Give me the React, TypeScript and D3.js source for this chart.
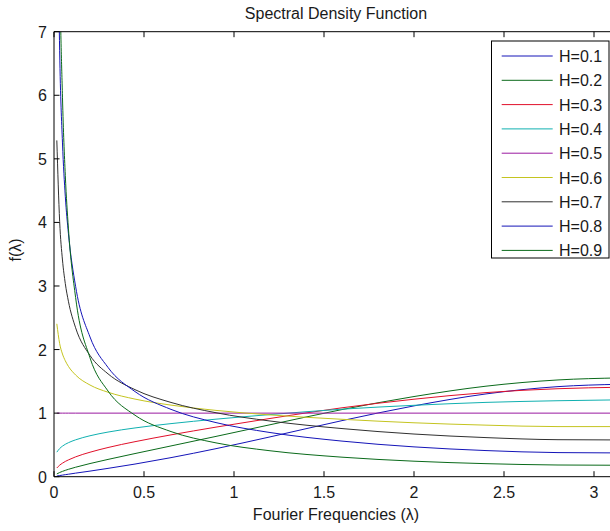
import React from "react";
import * as d3 from "d3";

// Fourier frequencies (λ)
const lambda = [0.0157, 0.0314, 0.0471, 0.0628, 0.08, 0.12, 0.2, 0.3, 0.45, 0.65, 0.9, 1.2, 1.6, 2.0, 2.4, 2.8, 3.1416];

const H01 = [0.010, 0.018, 0.025, 0.032, 0.039, 0.056, 0.088, 0.131, 0.199, 0.300, 0.441, 0.626, 0.882, 1.114, 1.302, 1.417, 1.454];
const H02 = [0.043, 0.066, 0.084, 0.100, 0.116, 0.149, 0.207, 0.272, 0.364, 0.484, 0.634, 0.817, 1.056, 1.261, 1.424, 1.522, 1.554];
const H03 = [0.137, 0.181, 0.213, 0.240, 0.264, 0.312, 0.385, 0.459, 0.551, 0.658, 0.780, 0.916, 1.084, 1.219, 1.323, 1.384, 1.407];
const H04 = [0.386, 0.443, 0.481, 0.510, 0.535, 0.580, 0.644, 0.702, 0.767, 0.835, 0.905, 0.977, 1.062, 1.123, 1.169, 1.195, 1.209];
const H05 = [1, 1, 1, 1, 1, 1, 1, 1, 1, 1, 1, 1, 1, 1, 1, 1, 1];
const H06 = [2.405, 2.094, 1.930, 1.823, 1.736, 1.600, 1.442, 1.329, 1.221, 1.126, 1.043, 0.972, 0.903, 0.848, 0.811, 0.788, 0.788];
const H07 = [5.29, 4.016, 3.409, 3.038, 2.760, 2.343, 1.907, 1.618, 1.369, 1.168, 1.006, 0.876, 0.757, 0.671, 0.615, 0.582, 0.578];
const H08 = [10.15, 6.70, 5.25, 4.41, 3.829, 2.994, 2.198, 1.719, 1.339, 1.059, 0.851, 0.695, 0.560, 0.469, 0.411, 0.379, 0.374];
const H09 = [14.37, 8.26, 5.97, 4.74, 3.91, 2.82, 1.87, 1.348, 0.967, 0.710, 0.532, 0.408, 0.307, 0.244, 0.205, 0.184, 0.180];

const seriesNames = ["H=0.1", "H=0.2", "H=0.3", "H=0.4", "H=0.5", "H=0.6", "H=0.7", "H=0.8", "H=0.9"];
const seriesValues = [H01, H02, H03, H04, H05, H06, H07, H08, H09];
const seriesColors = ["#1414b8", "#0a6a1a", "#e0102a", "#10b0b0", "#9a1aa0", "#c4c420", "#303030", "#1414b8", "#0a6a1a"];

const xTicks = [0, 0.5, 1, 1.5, 2, 2.5, 3];
const xTickLabels = ["0", "0.5", "1", "1.5", "2", "2.5", "3"];
const yTicks = [0, 1, 2, 3, 4, 5, 6, 7];
const yTickLabels = ["0", "1", "2", "3", "4", "5", "6", "7"];

const W = 610;
const H = 531;
const left = 54;
const right = 619.5;
const top = 31.7;
const bottom = 476.7;
const font = "'Liberation Sans', Arial, Helvetica, sans-serif";
const tickLen = 5.5;

export default function App() {
  const x = d3.scaleLinear().domain([0, Math.PI]).range([left, right]);
  const y = d3.scaleLinear().domain([0, 7]).range([bottom, top]);
  const line = d3
    .line<number>()
    .x((_, i) => x(lambda[i]))
    .y((d) => y(d))
    .curve(d3.curveMonotoneX);

  const legX = 491.5;
  const legY = 41;
  const legW = 117.5;
  const legH = 217;
  const rowY0 = 56;
  const rowStep = 24.3;

  return (
    <svg
      width={W}
      height={H}
      style={{ position: "absolute", left: 0, top: 0, background: "#fff" }}
      fontFamily={font}
    >
      <defs>
        <clipPath id="plotClip">
          <rect x={left} y={top} width={right - left} height={bottom - top} />
        </clipPath>
      </defs>
      <rect x={0} y={0} width={W} height={H} fill="#fff" />
      {/* series */}
      <g clipPath="url(#plotClip)">
        {seriesValues.map((vals, k) => (
          <path key={k} d={line(vals) || ""} fill="none" stroke={seriesColors[k]} strokeWidth={1} />
        ))}
      </g>
      {/* axes box */}
      <g stroke="#000" strokeWidth={1} fill="none">
        <line x1={left} y1={bottom} x2={right} y2={bottom} />
        <line x1={left} y1={top} x2={right} y2={top} />
        <line x1={left} y1={top} x2={left} y2={bottom} />
        <line x1={right} y1={top} x2={right} y2={bottom} />
        {xTicks.map((t) => (
          <g key={"xt" + t}>
            <line x1={x(t)} y1={bottom} x2={x(t)} y2={bottom - tickLen} />
            <line x1={x(t)} y1={top} x2={x(t)} y2={top + tickLen} />
          </g>
        ))}
        {yTicks.map((t) => (
          <g key={"yt" + t}>
            <line x1={left} y1={y(t)} x2={left + tickLen} y2={y(t)} />
            <line x1={right} y1={y(t)} x2={right - tickLen} y2={y(t)} />
          </g>
        ))}
      </g>
      {/* tick labels */}
      <g fontSize={16} fill="#1a1a1a">
        {xTicks.map((t, i) => (
          <text key={"xl" + t} x={x(t)} y={498} textAnchor="middle">
            {xTickLabels[i]}
          </text>
        ))}
        {yTicks.map((t, i) => (
          <text key={"yl" + t} x={47} y={y(t) + 6} textAnchor="end">
            {yTickLabels[i]}
          </text>
        ))}
      </g>
      {/* title and axis labels */}
      <text x={336} y={19} textAnchor="middle" fontSize={16} fill="#1a1a1a">
        Spectral Density Function
      </text>
      <text x={336} y={520} textAnchor="middle" fontSize={16} fill="#1a1a1a">
        Fourier Frequencies (λ)
      </text>
      <text
        transform="translate(21,250) rotate(-90)"
        textAnchor="middle"
        fontSize={16}
        fill="#1a1a1a"
      >
        f(λ)
      </text>
      {/* legend */}
      <rect x={legX} y={legY} width={legW} height={legH} fill="#fff" stroke="#000" strokeWidth={1} />
      {seriesNames.map((name, k) => {
        const ry = rowY0 + k * rowStep;
        return (
          <g key={"lg" + k}>
            <line x1={501.7} y1={ry} x2={552.7} y2={ry} stroke={seriesColors[k]} strokeWidth={1} />
            <text x={559} y={ry + 6} fontSize={16} fill="#1a1a1a">
              {name}
            </text>
          </g>
        );
      })}
    </svg>
  );
}
